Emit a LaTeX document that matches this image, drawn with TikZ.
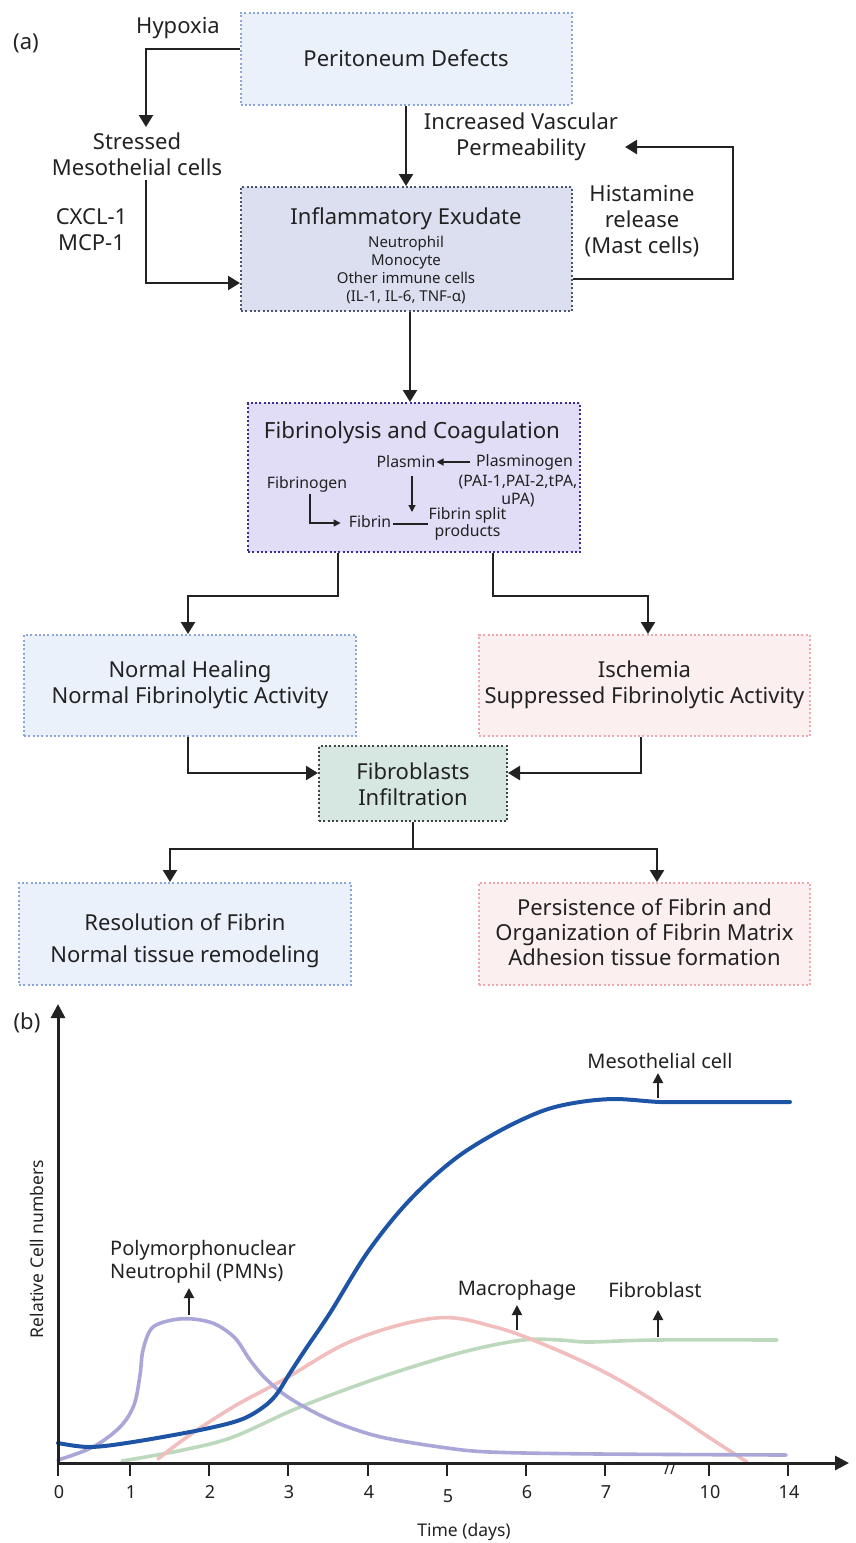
\documentclass[tikz,border=0pt]{standalone}
\usepackage{fontspec}
\setmainfont{Noto Sans}
\usetikzlibrary{arrows.meta}
\definecolor{ink}{HTML}{222222}
\definecolor{bfill}{HTML}{EBF1FB}
\definecolor{bdraw}{HTML}{8CA5D8}
\definecolor{pfill}{HTML}{FCEFEF}
\definecolor{pdraw}{HTML}{EAAAB0}
\definecolor{ifill}{HTML}{DCDFEF}
\definecolor{idraw}{HTML}{4C5470}
\definecolor{ffill}{HTML}{E2DDF6}
\definecolor{fdraw}{HTML}{3D2B94}
\definecolor{gfill}{HTML}{D6E6E0}
\definecolor{gdraw}{HTML}{3E4644}
\definecolor{cmeso}{HTML}{1E54A6}
\definecolor{cpmn}{HTML}{ABA6D8}
\definecolor{cmac}{HTML}{F2BDBD}
\definecolor{cfib}{HTML}{BDD9BD}
\tikzset{
  box/.style={line width=2pt, dash pattern=on 2pt off 2.3pt, inner sep=0pt, anchor=center},
  bluebox/.style={box, fill=bfill, draw=bdraw},
  pinkbox/.style={box, fill=pfill, draw=pdraw},
  big/.style={font=\fontsize{22}{26}\selectfont, align=center, inner sep=0pt, text=ink},
  small/.style={font=\fontsize{15}{18}\selectfont, align=center, inner sep=0pt, text=ink},
  fsmall/.style={font=\fontsize{15.8}{18}\selectfont, align=center, inner sep=0pt, text=ink},
  chartlbl/.style={font=\fontsize{20}{23}\selectfont, inner sep=0pt, text=ink},
  ticklbl/.style={font=\fontsize{18}{20}\selectfont, inner sep=0pt, text=ink},
  flow/.style={line width=2.4pt, draw=ink, -{Triangle[length=12pt,width=14pt]}},
  plainline/.style={line width=2.4pt, draw=ink},
  sflow/.style={line width=1.3pt, draw=ink, -{Triangle[length=7pt,width=7pt]}},
  sline/.style={line width=1.3pt, draw=ink},
  larrow/.style={line width=2pt, draw=ink, -{Triangle[length=10pt,width=10pt]}},
  axis/.style={line width=3pt, draw=ink, -{Triangle[length=14pt,width=14pt]}},
  tick/.style={line width=1.4pt, draw=ink},
  curve/.style={line width=3.6pt, line cap=round, line join=round},
}
\begin{document}
\begin{tikzpicture}[x=1pt,y=-1pt]
\useasboundingbox (0,0) rectangle (855,1543);

% ---------- (a) ----------
\node[big] (la) at (26,43) {(a)};
\node[bluebox, minimum width=331pt, minimum height=92pt] (per) at (406,58.5) {};
\node[big] (pert) at (406,58) {Peritoneum Defects};
\node[big] (hyp) at (178,28) {Hypoxia};
\node[big] (str) at (137,154) {Stressed\\Mesothelial cells};
\node[big] (cx) at (91.5,229.5) {CXCL-1\\MCP-1};
\node[big] (ivp) at (521,137) {Increased Vascular\\Permeability};
\node[big] (his) at (642,221) {Histamine\\release\\(Mast cells)};

\node[box, fill=ifill, draw=idraw, minimum width=331pt, minimum height=124pt] (inf) at (406.5,249) {};
\node[big] (inft) at (406,219) {Inflammatory Exudate};
\node[small] (infs) at (406,270) {Neutrophil\\Monocyte\\Other immune cells\\(IL-1, IL-6, TNF-α)};

\coordinate (h0) at (146,49);
\coordinate (h1) at (146,127);
\coordinate (s0) at (146,180);
\coordinate (s1) at (146,283);
\draw[flow] (per.west |- h0) -- (h0) -- (h1);
\draw[flow] (s0) -- (s1) -- (inf.west |- s1);
\draw[flow] (per.south) -- (per.south |- inf.north);
\coordinate (m1) at (733,279);
\coordinate (m2) at (625,147);
\draw[flow] (inf.east |- m1) -- (m1) |- (m2);

% ---------- Fibrinolysis ----------
\node[box, fill=ffill, draw=fdraw, minimum width=332pt, minimum height=149pt] (fib) at (414,477.5) {};
\coordinate (a3) at (410,0);
\draw[flow] (inf.south -| a3) -- (fib.north -| a3);
\node[font=\fontsize{22.3}{26}\selectfont, inner sep=0pt, text=ink] (fibt) at (412,433) {Fibrinolysis and Coagulation};
\node[fsmall] (plm) at (406,462) {Plasmin};
\node[fsmall] (pg) at (524.5,462) {Plasminogen};
\node[fsmall] (pai) at (518,491) {(PAI-1,PAI-2,tPA,\\uPA)};
\node[fsmall] (fgn) at (307,484) {Fibrinogen};
\node[fsmall] (fbr) at (370,522) {Fibrin};
\node[fsmall, font=\fontsize{15.8}{17}\selectfont] (fsp) at (467.5,523.5) {Fibrin split\\products};
\draw[sflow] ([xshift=-6pt]pg.west) -- ([xshift=1pt]plm.east);
\coordinate (pd1) at (412,476);
\coordinate (pd2) at (412,512);
\draw[sflow] (pd1) -- (pd2);
\draw[sline] ([xshift=2pt,yshift=-2pt]fbr.east) -- ([yshift=-2pt]fbr.east -| fsp.west);
\coordinate (fg) at (310,494);
\draw[sflow] (fg) |- ([xshift=-8pt,yshift=-1pt]fbr.west);

% ---------- Normal / Ischemia ----------
\node[bluebox, minimum width=332pt, minimum height=101pt] (nor) at (190,685.5) {};
\node[big] (nort) at (190,685) {Normal Healing\\Normal Fibrinolytic Activity};
\node[pinkbox, minimum width=331pt, minimum height=101pt] (isc) at (644.5,685.5) {};
\node[big] (isct) at (644.5,685) {Ischemia\\Suppressed Fibrinolytic Activity};
\coordinate (b1) at (338,596);
\coordinate (b2) at (493,596);
\coordinate (b3) at (188,0);
\coordinate (b4) at (648,0);
\draw[flow] (fib.south -| b1) -- (b1) -- (b1 -| b3) -- (nor.north -| b3);
\draw[flow] (fib.south -| b2) -- (b2) -- (b2 -| b4) -- (isc.north -| b4);

\node[box, fill=gfill, draw=gdraw, minimum width=188pt, minimum height=75pt] (fbl) at (413,783.5) {};
\node[big] (fblt) at (413,784.5) {Fibroblasts\\Infiltration};
\coordinate (c1) at (188,773);
\coordinate (c2) at (641,773);
\draw[flow] (nor.south -| c1) -- (c1) -- (fbl.west |- c1);
\draw[flow] (isc.south -| c2) -- (c2) -- (fbl.east |- c2);

% ---------- Outcomes ----------
\node[bluebox, minimum width=332pt, minimum height=102pt] (res) at (185,934) {};
\node[big] (rest) at (185,941) {Resolution of Fibrin\\[6pt]Normal tissue remodeling};
\node[pinkbox, minimum width=331pt, minimum height=102pt] (prs) at (644.5,934) {};
\node[big, font=\fontsize{22}{25}\selectfont] (prst) at (644.5,932) {Persistence of Fibrin and\\Organization of Fibrin Matrix\\Adhesion tissue formation};
\coordinate (d1) at (413,849);
\coordinate (e1) at (170,849);
\coordinate (e2) at (657,849);
\draw[plainline] (fbl.south) -- (d1);
\draw[flow] (d1) -- (e1) -- (e1 |- res.north);
\draw[flow] (d1) -- (e2) -- (e2 |- prs.north);

% ---------- (b) chart ----------
\node[big] (lb) at (27,1023) {(b)};
\coordinate (O) at (58,1463);
\coordinate (Yt) at (58,1004);
\coordinate (Xe) at (849,1463);

% curves
\draw[curve, cfib] plot[smooth, tension=0.55] coordinates {(122,1461) (183,1450) (233,1437) (300,1407) (381,1377) (463,1352) (523,1340) (560,1340) (589,1342) (654,1340) (777,1340)};
\draw[curve, cmac] plot[smooth, tension=0.6] coordinates {(158,1459) (187,1437) (233,1407) (283,1380) (354,1340) (436,1318) (495,1327) (550,1347) (610,1375) (665,1408) (710,1438) (747,1462)};
\draw[curve, cpmn] plot[smooth, tension=0.55] coordinates {(58,1460) (93,1447) (120,1427) (134,1405) (140,1375) (143,1350) (152,1328) (172,1320) (193,1319) (215,1324) (235,1338) (250,1360) (265,1378) (285,1395) (310,1410) (340,1424) (381,1437) (440,1447) (490,1452) (600,1454) (786,1455)};
\draw[curve, cmeso, line width=4pt] plot[smooth, tension=0.55] coordinates {(58,1443) (90,1447) (133,1442) (200,1430) (240,1420) (262,1408) (276,1395) (290,1373) (305,1350) (330,1313) (365,1256) (398,1213) (430,1180) (463,1153) (505,1128) (545,1110) (580,1102) (616,1099) (660,1102) (700,1102) (790,1102)};

% axes
\draw[axis] ([yshift=1.5pt]O) -- (Yt);
\draw[axis] ([xshift=-1.5pt]O) -- (Xe);
\foreach \xx/\lab/\dy [count=\i] in {58/0/0,130/1/0,209/2/0,288/3/0,368/4/0,447/5/4,526/6/0,605/7/0,709/10/0,788/14/0} {
  \coordinate (tk\i) at (\xx,1463);
  \draw[tick] (tk\i) -- ++(0,13);
  \node[ticklbl] (tl\i) at (\xx+1,1492+\dy) {\lab};
}
\coordinate (br1) at (665,1474);
\coordinate (br2) at (671,1474);
\draw[tick, line width=1.2pt] (br1) -- ++(4,-12);
\draw[tick, line width=1.2pt] (br2) -- ++(4,-12);

\node[font=\fontsize{17.5}{19}\selectfont, rotate=90, inner sep=0pt, text=ink] (ylab) at (37,1249) {Relative Cell numbers};
\node[font=\fontsize{17.5}{19}\selectfont, inner sep=0pt, text=ink] (xlab) at (464,1532) {Time (days)};

\node[chartlbl] (lmeso) at (660,1061) {Mesothelial cell};
\node[chartlbl, align=left, anchor=west] (lpmn) at (110,1261.5) {Polymorphonuclear\\Neutrophil (PMNs)};
\node[chartlbl] (lmac) at (517,1290) {Macrophage};
\node[chartlbl] (lfib) at (655,1290) {Fibroblast};
\coordinate (q1) at (658,1098);
\coordinate (q1t) at (658,1073);
\coordinate (q2) at (189,1315);
\coordinate (q2t) at (189,1288);
\coordinate (q3) at (517,1330);
\coordinate (q3t) at (517,1305);
\coordinate (q4) at (658,1337);
\coordinate (q4t) at (658,1310);
\draw[larrow] (q1) -- (q1t);
\draw[larrow] (q2) -- (q2t);
\draw[larrow] (q3) -- (q3t);
\draw[larrow] (q4) -- (q4t);
\end{tikzpicture}
\end{document}
